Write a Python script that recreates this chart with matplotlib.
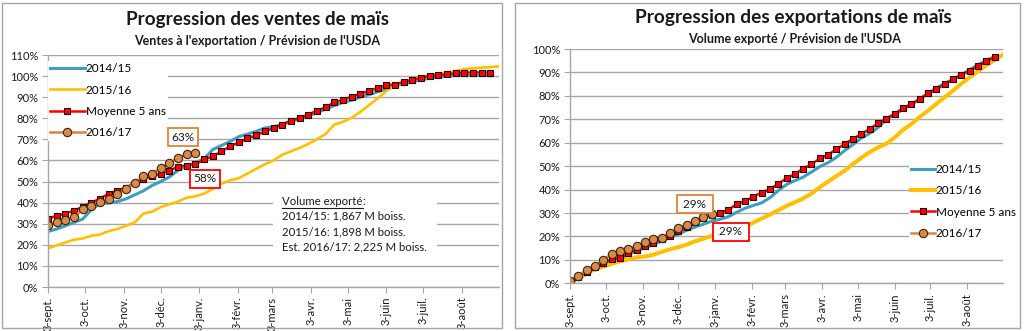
import numpy as np
import pandas as pd
import matplotlib
matplotlib.use('Agg')
import matplotlib.pyplot as plt
from matplotlib.patches import Rectangle
from matplotlib.lines import Line2D

plt.rcParams['font.family'] = ['Lato', 'DejaVu Sans']

#---------------------------
# data (weekly, first week = 3-sept.), values in %
#---------------------------
debut = pd.Timestamp('2016-09-03')

mois_labels = ['3-sept.', '3-oct.', '3-nov.', '3-déc.', '3-janv.', '3-févr.',
               '3-mars', '3-avr.', '3-mai', '3-juin', '3-juil.', '3-août']

series_labels = ['2014/15', '2015/16', 'Moyenne 5 ans', '2016/17']

# Progression des ventes
ventes_1415 = [26.3, 27.5, 29.0, 30.6, 32.2, 36.7, 39.5, 39.8, 40.5, 41.8,
               43.7, 45.6, 48.1, 50.0, 52.2, 55.4, 57.3, 58.9, 60.8, 65.2,
               67.1, 69.0, 71.3, 72.5, 73.8, 75.4, 76.0, 77.0, 78.5, 79.8,
               81.0, 82.7, 84.3, 86.0, 87.5, 88.5, 90.0, 91.2, 92.5, 94.0,
               95.5, 96.3, 97.3, 98.2, 99.0, 99.6, 100.0, 100.3, 100.5, 100.5,
               100.4, 100.2]
ventes_1516 = [18.3, 19.8, 21.1, 22.4, 23.0, 24.3, 24.9, 26.5, 27.5, 29.0,
               30.6, 34.8, 35.7, 37.9, 39.2, 40.5, 42.4, 43.0, 44.3, 46.5,
               49.0, 50.6, 51.6, 53.8, 56.0, 58.2, 60.0, 62.7, 64.3, 65.9,
               67.8, 70.0, 72.5, 77.0, 78.3, 80.2, 83.0, 86.2, 89.4, 92.9,
               95.4, 97.0, 98.2, 99.5, 100.5, 101.1, 101.8, 102.4, 103.3, 103.7,
               104.0, 104.3, 104.6]
ventes_moy = [32.4, 33.8, 34.8, 36.2, 38.0, 40.0, 41.9, 44.3, 45.7, 47.1,
              49.5, 51.4, 52.4, 53.8, 55.2, 57.1, 57.6, 58.1, 60.5, 61.9,
              64.3, 66.7, 68.6, 70.5, 71.9, 73.8, 75.2, 77.0, 78.9, 80.2,
              81.7, 83.6, 85.2, 87.5, 88.7, 90.3, 91.6, 92.9, 94.4, 95.7,
              96.0, 97.3, 98.2, 99.2, 100.2, 100.5, 100.8, 101.4, 101.7, 101.7,
              101.7, 101.7]
ventes_1617 = [29.5, 30.8, 31.9, 33.0, 37.1, 38.6, 40.3, 41.7, 44.3, 46.5,
               49.4, 52.5, 53.8, 56.3, 58.9, 61.1, 63.0, 63.6]

# Progression des exportations
export_1415 = [0.5, 2.0, 4.0, 6.5, 8.3, 9.5, 10.5, 12.3, 13.8, 15.2,
               16.5, 18.0, 19.6, 21.0, 22.6, 24.0, 25.2, 26.5, 27.3, 28.4,
               30.3, 32.0, 33.2, 34.3, 36.5, 39.5, 42.2, 43.8, 45.3, 47.5,
               49.8, 51.5, 53.8, 56.7, 59.3, 62.0, 64.0, 66.5, 70.0, 72.2,
               74.2, 76.4, 78.5, 81.0, 83.4, 85.3, 87.1, 89.0, 91.2, 93.2,
               95.2, 96.7]
export_1516 = [0.3, 2.6, 4.3, 6.0, 7.1, 8.2, 9.4, 10.2, 11.1, 11.4,
               12.2, 13.4, 14.5, 15.4, 16.5, 17.9, 19.0, 20.2, 21.3, 22.2,
               23.0, 23.9, 25.9, 27.6, 29.3, 31.2, 33.0, 34.6, 36.2, 38.3,
               41.0, 43.4, 45.8, 48.1, 51.0, 53.6, 56.0, 58.0, 59.6, 62.3,
               65.5, 68.0, 71.0, 73.7, 76.6, 79.4, 82.2, 85.2, 87.9, 90.5,
               93.0, 95.3, 97.6]
export_moy = [1.0, 2.8, 5.0, 6.8, 8.8, 10.2, 10.9, 13.0, 14.4, 16.0,
              17.3, 18.9, 20.4, 22.3, 24.0, 26.0, 27.8, 29.2, 30.0, 31.3,
              33.8, 35.0, 37.0, 38.7, 40.2, 42.4, 44.8, 46.6, 48.9, 50.8,
              53.3, 54.9, 57.2, 59.5, 61.7, 63.7, 65.9, 68.3, 70.3, 72.4,
              74.8, 76.5, 78.8, 81.1, 82.8, 84.9, 87.1, 89.0, 90.7, 92.7,
              94.7, 96.5]
export_1617 = [1.1, 3.1, 5.7, 7.4, 9.9, 12.5, 13.7, 14.5, 15.9, 17.6,
               18.8, 19.3, 21.3, 23.7, 24.9, 26.6, 28.2, 29.6]

volume_lignes = ['2014/15: 1,867 M boiss.', '2015/16: 1,898 M boiss.',
                 'Est. 2016/17: 2,225 M boiss.']

# colors
c_bleu = '#3E9EBF'
c_jaune = '#FFC000'
c_rouge = '#FF0000'
c_orange = '#E0823C'
c_gris = '#A6A6A6'
c_texte = '#1a1a1a'

W, H = 1024, 331


def semaines(vals):
    return debut + pd.to_timedelta(7 * np.arange(len(vals)), unit='D')


def fx(px):
    return px / W


def fy(py):
    return 1 - py / H


#---------------------------
def tracer(ax, s1415, s1516, moy, s1617, ymax, lw_jaune):
    ax.plot(semaines(s1415), s1415, color=c_bleu, lw=2.2, label=series_labels[0])
    ax.plot(semaines(s1516), s1516, color=c_jaune, lw=lw_jaune, label=series_labels[1])
    ax.plot(semaines(moy), moy, color=c_rouge, lw=1.8, marker='s', ms=4.5,
            mfc=c_rouge, mec='#200000', mew=0.8, label=series_labels[2])
    ax.plot(semaines(s1617), s1617, color=c_orange, lw=1.8, marker='o', ms=6,
            mfc='#D98A48', mec='#3a2410', mew=0.8, label=series_labels[3])

    ax.set_xlim(debut, debut + pd.Timedelta(days=364))
    ax.set_ylim(0, ymax)
    ax.set_yticks(np.arange(0, ymax + 1, 10))
    ax.set_yticklabels([f'{int(v)}%' for v in np.arange(0, ymax + 1, 10)])
    ticks = pd.date_range(debut, periods=12, freq=pd.DateOffset(months=1))
    ax.set_xticks(ticks)
    ax.set_xticklabels(mois_labels, rotation=90)
    ax.tick_params(axis='both', direction='out', length=4, color=c_gris,
                   labelsize=8, labelcolor=c_texte, pad=3)

    ax.yaxis.grid(True, color=c_gris, lw=1.0)
    ax.set_axisbelow(True)
    for s in ['top', 'right']:
        ax.spines[s].set_visible(False)
    for s in ['left', 'bottom']:
        ax.spines[s].set_color(c_gris)
        ax.spines[s].set_linewidth(1.0)


def etiquette(ax, semaine, y, txt, couleur):
    x = debut + pd.Timedelta(days=7 * semaine)
    ax.text(x, y, txt, ha='center', va='center', fontsize=8.5, color=c_texte,
            zorder=6, bbox=dict(boxstyle='square,pad=0.3', fc='white',
                                ec=couleur, lw=1.3))


def legende(ax, x, y, hl):
    ax.legend(loc='upper left', bbox_to_anchor=(x, y), fontsize=8.5,
              handlelength=hl, handletextpad=0.1, labelspacing=0.88,
              borderaxespad=0, borderpad=0.2, frameon=True, fancybox=False,
              edgecolor='none', facecolor='white', framealpha=1)


fig = plt.figure(figsize=(W / 100, H / 100), dpi=100)

# chart frames
fig.add_artist(Rectangle((fx(2), fy(328)), fx(500), 325 / H, transform=fig.transFigure,
                         fill=False, ec=c_gris, lw=1.0))
fig.add_artist(Rectangle((fx(515), fy(328)), fx(505), 325 / H, transform=fig.transFigure,
                         fill=False, ec=c_gris, lw=1.0))

#---------------------------
# left chart: ventes
#---------------------------
ax1 = fig.add_axes([fx(48), fy(287), fx(451), 232 / H])
tracer(ax1, ventes_1415, ventes_1516, ventes_moy, ventes_1617, 110, 1.9)
etiquette(ax1, 15.6, 71, '63%', c_orange)
etiquette(ax1, 18.1, 51.4, '58%', c_rouge)
legende(ax1, 0.0, 0.975, 2.9)

fig.text(fx(257), fy(20), 'Progression des ventes de maïs', ha='center', va='center',
         fontsize=13.6, fontweight='bold', color=c_texte)
fig.text(fx(257), fy(41), "Ventes à l'exportation / Prévision de l'USDA", ha='center',
         va='center', fontsize=9, fontweight='bold', color=c_texte)

# text block with volumes
fig.add_artist(Rectangle((fx(273), fy(257)), fx(164), 67 / H, transform=fig.transFigure,
                         fc='white', ec='none', zorder=5))
t = fig.text(fx(282), fy(201), 'Volume exporté', ha='left', va='center', fontsize=8.2,
             color=c_texte, zorder=6)
fig.canvas.draw()
bb = t.get_window_extent(renderer=fig.canvas.get_renderer())
fig.text(bb.x1 / W, fy(201), ':', ha='left', va='center', fontsize=8.2, color=c_texte,
         zorder=6)
fig.add_artist(Line2D([bb.x0 / W, bb.x1 / W], [(bb.y0 - 1) / H, (bb.y0 - 1) / H],
                      transform=fig.transFigure, color=c_texte, lw=0.8, zorder=6))
for i, ligne in enumerate(volume_lignes):
    fig.text(fx(282), fy(216 + 15.5 * i), ligne, ha='left', va='center', fontsize=8.2,
             color=c_texte, zorder=6)

#---------------------------
# right chart: exportations
#---------------------------
ax2 = fig.add_axes([fx(570), fy(283.3), fx(433), 234.3 / H])
tracer(ax2, export_1415, export_1516, export_moy, export_1617, 100, 2.9)
etiquette(ax2, 15.0, 33.8, ' 29% ', c_orange)
etiquette(ax2, 19.3, 21.9, ' 29% ', c_rouge)
legende(ax2, 0.782, 0.52, 2.0)

fig.text(fx(793), fy(18), 'Progression des exportations de maïs', ha='center', va='center',
         fontsize=13.8, fontweight='bold', color=c_texte)
fig.text(fx(794), fy(39), "Volume exporté / Prévision de l'USDA", ha='center',
         va='center', fontsize=9, fontweight='bold', color=c_texte)

fig.savefig('out.png', dpi=100)
